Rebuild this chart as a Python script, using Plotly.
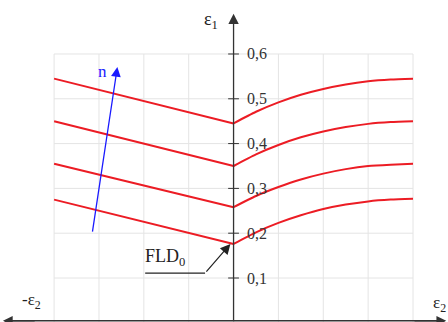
import plotly.graph_objects as go

# ---------- data ----------
eps2_izq = [-0.4, 0.0]
eps2_der = [0.0, 0.05, 0.1, 0.15, 0.2, 0.25, 0.3, 0.35, 0.4]

izq_1 = [0.545, 0.445]
der_1 = [0.445, 0.471, 0.492, 0.509, 0.522, 0.532, 0.539, 0.543, 0.545]
izq_2 = [0.450, 0.350]
der_2 = [0.350, 0.376, 0.397, 0.414, 0.427, 0.437, 0.444, 0.448, 0.450]
izq_3 = [0.355, 0.258]
der_3 = [0.258, 0.283, 0.303, 0.320, 0.333, 0.343, 0.350, 0.353, 0.355]
izq_4 = [0.275, 0.176]
der_4 = [0.176, 0.202, 0.223, 0.240, 0.254, 0.264, 0.271, 0.275, 0.277]

ticks_y = [0.1, 0.2, 0.3, 0.4, 0.5, 0.6]
labels_y = ["0,1", "0,2", "0,3", "0,4", "0,5", "0,6"]
grid_x = [-0.4, -0.3, -0.2, -0.1, 0.1, 0.2, 0.3, 0.4]

FONT = "Liberation Serif"
XR = [-0.5206, 0.478]
YR = [0.0018, 0.7205]
ROJO = "#ec1c24"

fig = go.Figure()

for izq, der in [(izq_1, der_1), (izq_2, der_2), (izq_3, der_3), (izq_4, der_4)]:
    fig.add_trace(go.Scatter(
        x=eps2_izq, y=izq, mode="lines",
        line=dict(color=ROJO, width=2),
        showlegend=False, hoverinfo="skip",
    ))
    fig.add_trace(go.Scatter(
        x=eps2_der, y=der, mode="lines",
        line=dict(color=ROJO, width=2, shape="spline", smoothing=0.6),
        showlegend=False, hoverinfo="skip",
    ))

shapes = []
# grid
for gx in grid_x:
    shapes.append(dict(type="line", x0=gx, x1=gx, y0=0, y1=0.6,
                       line=dict(color="#e4e4e4", width=1), layer="below"))
for gy in ticks_y:
    shapes.append(dict(type="line", x0=-0.4, x1=0.4, y0=gy, y1=gy,
                       line=dict(color="#e4e4e4", width=1), layer="below"))
    # tick marks on the y axis
    shapes.append(dict(type="line", x0=-0.012, x1=0.012, y0=gy, y1=gy,
                       line=dict(color="#333333", width=1)))

# x axis line
shapes.append(dict(type="line", x0=-0.51, x1=0.47, y0=0.0045, y1=0.0045,
                   line=dict(color="#333333", width=1.4)))

# FLD0 leader underline
shapes.append(dict(type="line", x0=-0.197, x1=-0.0635, y0=0.111, y1=0.111,
                   line=dict(color="#222222", width=1.2)))

annotations = []
# y axis with arrow
annotations.append(dict(x=0.0, y=0.69, ax=0.0, ay=0.0, xref="x", yref="y",
                        axref="x", ayref="y", showarrow=True, arrowhead=2,
                        arrowsize=1.6, arrowwidth=1.3, arrowcolor="#333333", text=""))
# x axis arrow heads
annotations.append(dict(x=0.474, y=0.0045, ax=0.40, ay=0.0045, xref="x", yref="y",
                        axref="x", ayref="y", showarrow=True, arrowhead=2,
                        arrowsize=1.5, arrowwidth=1.3, arrowcolor="#333333", text=""))
annotations.append(dict(x=-0.514, y=0.0045, ax=-0.44, ay=0.0045, xref="x", yref="y",
                        axref="x", ayref="y", showarrow=True, arrowhead=2,
                        arrowsize=1.5, arrowwidth=1.3, arrowcolor="#333333", text=""))
# n arrow
annotations.append(dict(x=-0.259, y=0.571, ax=-0.315, ay=0.2, xref="x", yref="y",
                        axref="x", ayref="y", showarrow=True, arrowhead=2,
                        arrowsize=1.5, arrowwidth=1.3, arrowcolor="#1a1aff", text=""))
annotations.append(dict(x=-0.293, y=0.56, text="n", showarrow=False,
                        font=dict(family=FONT, size=17, color="#1a1aff")))
# FLD0 arrow
annotations.append(dict(x=-0.007, y=0.176, ax=-0.0635, ay=0.111, xref="x", yref="y",
                        axref="x", ayref="y", showarrow=True, arrowhead=2,
                        arrowsize=1.7, arrowwidth=1.2, arrowcolor="#222222", text=""))
annotations.append(dict(x=-0.152, y=0.145, text="FLD<sub>0</sub>", showarrow=False,
                        font=dict(family=FONT, size=18, color="#222222")))

# tick labels
for gy, lab in zip(ticks_y, labels_y):
    annotations.append(dict(x=0.025, y=gy, text=lab, showarrow=False, xanchor="left",
                            font=dict(family=FONT, size=16, color="#333333")))

# axis titles
annotations.append(dict(x=-0.05, y=0.674, text="ε<sub>1</sub>", showarrow=False,
                        font=dict(family=FONT, size=18, color="#222222")))
annotations.append(dict(x=-0.45, y=0.049, text="-ε<sub>2</sub>", showarrow=False,
                        font=dict(family=FONT, size=17, color="#222222")))
annotations.append(dict(x=0.477, y=0.043, text="ε<sub>2</sub>", showarrow=False,
                        xanchor="right",
                        font=dict(family=FONT, size=17, color="#222222")))

fig.update_layout(
    width=448, height=322,
    margin=dict(l=0, r=0, t=0, b=0),
    paper_bgcolor="white", plot_bgcolor="white",
    xaxis=dict(range=XR, visible=False, fixedrange=True),
    yaxis=dict(range=YR, visible=False, fixedrange=True),
    shapes=shapes, annotations=annotations,
    showlegend=False,
)

fig.write_html("out.html", config={"displayModeBar": False},
               post_script="document.body.style.margin='0';")
